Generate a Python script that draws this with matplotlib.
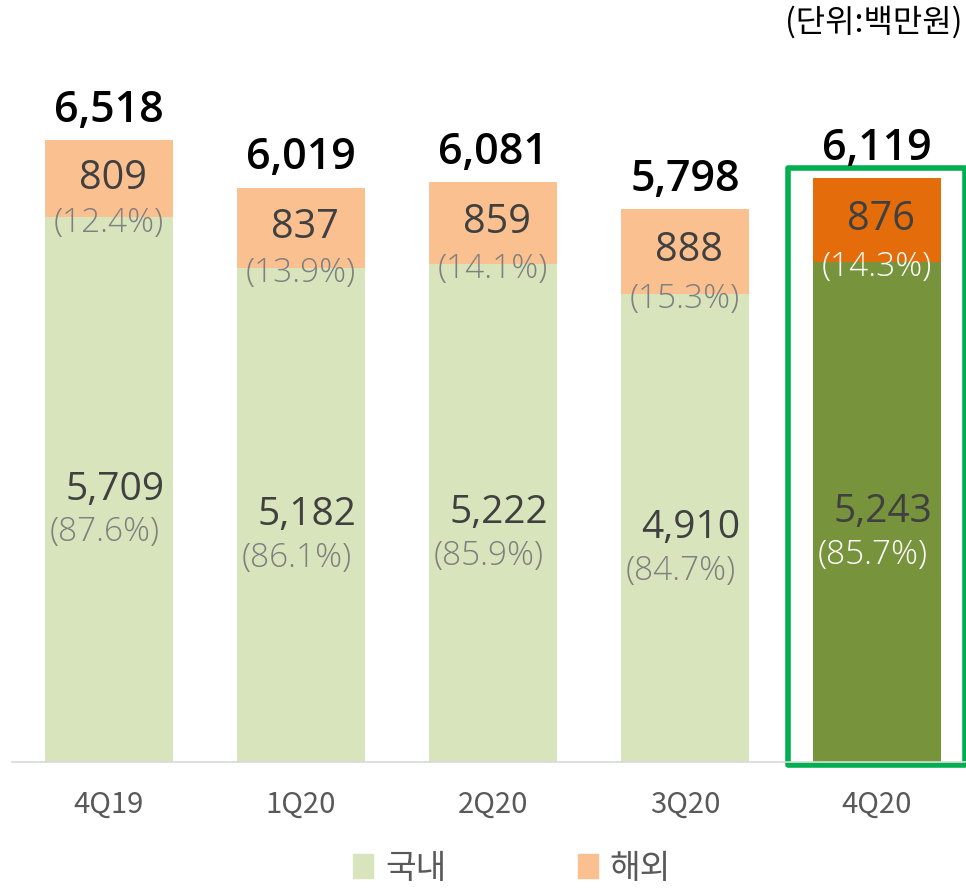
import matplotlib.pyplot as plt
from matplotlib.patches import Rectangle, Patch

plt.rcParams['font.family'] = ['Open Sans', 'Noto Sans CJK KR', 'DejaVu Sans']

quarters = ["4Q19", "1Q20", "2Q20", "3Q20", "4Q20"]
domestic = [5709, 5182, 5222, 4910, 5243]
overseas = [809, 837, 859, 888, 876]
totals = [6518, 6019, 6081, 5798, 6119]
dom_pct = ["(87.6%)", "(86.1%)", "(85.9%)", "(84.7%)", "(85.7%)"]
ovs_pct = ["(12.4%)", "(13.9%)", "(14.1%)", "(15.3%)", "(14.3%)"]

dom_colors = ["#d8e4bc"] * 4 + ["#77933c"]
ovs_colors = ["#fac090"] * 4 + ["#e46c0a"]
pct_colors = ["#7f7f7f"] * 4 + ["#ffffff"]

kr = ["Noto Sans CJK KR", "DejaVu Sans"]

fig = plt.figure(figsize=(9.66, 8.88), dpi=100)
# axes spans x 12..966 px, y 50..762 px (from top)
ax = fig.add_axes([12 / 966, (888 - 762) / 888, 954 / 966, 712 / 888])

x = list(range(len(quarters)))
ax.bar(x, domestic, width=0.667, color=dom_colors)
ax.bar(x, overseas, width=0.667, bottom=domestic, color=ovs_colors)

for i in x:
    d, o, t = domestic[i], overseas[i], totals[i]
    ax.annotate(f"{t:,}", (i, t), xytext=(0, 6), textcoords="offset points",
                ha="center", va="bottom", fontsize=31, fontweight="semibold", color="black")
    ax.text(i + 0.02, d + o / 2, f"{o:,}", ha="center", va="center",
            fontsize=28.5, color="#404040")
    ax.annotate(ovs_pct[i], (i, d), xytext=(0, -4), textcoords="offset points",
                ha="center", va="center", fontsize=24, fontweight="light",
                color=pct_colors[i])
    ax.text(i + 0.03, d / 2, f"{d:,}", ha="center", va="center",
            fontsize=28, color="#404040")
    ax.annotate(dom_pct[i], (i, d / 2), xytext=(-3, -31), textcoords="offset points",
                ha="center", va="center", fontsize=24, fontweight="light",
                color=pct_colors[i])

# highlight box around latest quarter
ax.add_patch(Rectangle((4 - 0.465, -30), 0.925, totals[4] + 140, fill=False,
                       edgecolor="#00b050", linewidth=4, clip_on=False,
                       joinstyle="round"))

ax.set_xlim(-0.505, 4.464)
ax.set_ylim(0, 712 / 0.0954)
ax.set_xticks(x)
ax.set_xticklabels(quarters, fontsize=21, color="#595959", family=kr)
ax.tick_params(axis="x", length=0, pad=20)
ax.set_yticks([])
for s in ["top", "left", "right"]:
    ax.spines[s].set_visible(False)
ax.spines["bottom"].set_color("#d9d9d9")
ax.spines["bottom"].set_linewidth(1.2)

fig.text(963 / 966, 1 - 22 / 888, "(단위:백만원)", ha="right", va="center",
         fontsize=23, color="black", family=kr)

handles = [Patch(color="#d8e4bc"), Patch(color="#fac090")]
fig.legend(handles, ["국내", "해외"], loc="center", bbox_to_anchor=(512 / 966, 1 - 868 / 888),
           ncol=2, frameon=False, handlelength=0.6, handleheight=0.7,
           handletextpad=0.35, columnspacing=3.95,
           prop={"family": kr, "size": 24},
           labelcolor="#595959")

fig.savefig("out.png", dpi=100)
